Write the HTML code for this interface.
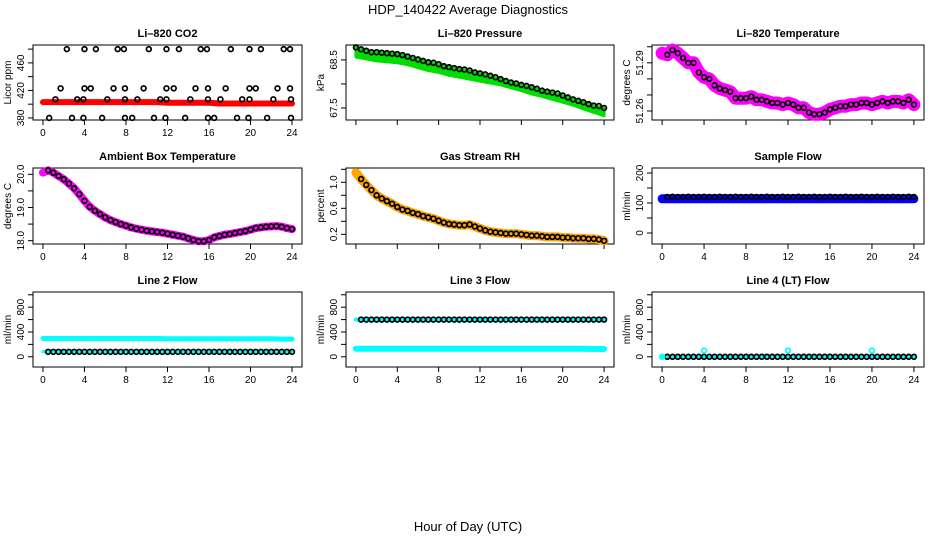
<!DOCTYPE html>
<html><head><meta charset="utf-8"><style>
html,body{margin:0;padding:0;background:#fff;}
svg{display:block;font-family:"Liberation Sans",Arial,sans-serif;}
</style></head><body>
<svg id="chart" width="936" height="540" viewBox="0 0 936 540" xmlns="http://www.w3.org/2000/svg">
<rect x="0" y="0" width="936" height="540" fill="#fff"/>
<text x="468" y="14" text-anchor="middle" font-size="13">HDP_140422  Average Diagnostics</text>
<text x="468" y="531" text-anchor="middle" font-size="13">Hour of Day (UTC)</text>
</svg>
<script>
// ---------- data ----------
const xTicks = [0,4,8,12,16,20,24];
const pressBlack = [68.76,68.72,68.69,68.66,68.66,68.65,68.64,68.63,68.62,68.6,68.57,68.54,68.51,68.48,68.45,68.44,68.41,68.37,68.35,68.33,68.31,68.3,68.28,68.24,68.22,68.2,68.17,68.14,68.1,68.06,68.03,68.01,67.98,67.96,67.93,67.9,67.86,67.84,67.82,67.8,67.76,67.72,67.68,67.65,67.62,67.58,67.55,67.54,67.5];
const pressGreenLow = [68.56,68.52,68.48,68.46,68.44,68.4,68.34,68.28,68.24,68.18,68.14,68.1,68.06,68.02,67.98,67.92,67.86,67.79,67.74,67.68,67.62,67.56,67.48,67.41,67.34];
const tempVals = [51.296,51.295,51.298,51.296,51.293,51.29,51.29,51.284,51.281,51.28,51.276,51.274,51.273,51.272,51.268,51.268,51.268,51.269,51.267,51.267,51.266,51.265,51.265,51.264,51.265,51.264,51.262,51.262,51.259,51.258,51.258,51.259,51.261,51.262,51.263,51.263,51.264,51.264,51.265,51.265,51.264,51.265,51.266,51.265,51.266,51.266,51.265,51.267,51.264];
const ambientVals = [20.05,20.12,20.05,19.95,19.85,19.72,19.58,19.4,19.2,19.02,18.9,18.8,18.7,18.62,18.56,18.5,18.45,18.4,18.36,18.33,18.3,18.28,18.26,18.24,18.21,18.18,18.15,18.12,18.07,18.02,17.98,17.98,18.02,18.1,18.14,18.18,18.2,18.23,18.26,18.29,18.33,18.38,18.4,18.42,18.43,18.44,18.42,18.38,18.35];
const rhVals = [1.15,1.05,0.96,0.88,0.8,0.75,0.71,0.67,0.62,0.58,0.56,0.53,0.51,0.48,0.46,0.44,0.41,0.38,0.36,0.35,0.34,0.34,0.35,0.32,0.29,0.26,0.24,0.23,0.22,0.21,0.21,0.21,0.2,0.19,0.18,0.18,0.17,0.16,0.16,0.16,0.15,0.15,0.14,0.14,0.14,0.13,0.13,0.12,0.1];
const sampleFlowVals = [120,120,121,120,120,121,120,120,121,120,120,121,120,120,121,120,120,121,120,120,121,120,120,121,120,120,121,120,120,121,120,120,121,120,120,121,120,120,121,120,120,121,120,120,121,120,120,121,120];
const sampleFlowBand = [114,114,114,114,114,114,114,114,114,114,114,114,114,114,114,114,114,114,114,114,114,114,114,114,114];
const line2Black = [80,80,80,80,80,80,80,80,80,80,80,80,80,80,80,80,80,80,80,80,80,80,80,80,80,80,80,80,80,80,80,80,80,80,80,80,80,80,80,80,80,80,80,80,80,80,80,80,80];
const line2Cyan = [295,295,295,295,295,295,295,295,295,295,295,295,290,290,290,290,290,290,290,290,290,290,290,285,285];
const line3Black = [600,600,600,600,600,600,600,600,600,600,600,600,600,600,600,600,600,600,600,600,600,600,600,600,600,600,600,600,600,600,600,600,600,600,600,600,600,600,600,600,600,600,600,600,600,600,600,600,600];
const line3CyanHigh = [600,600,600,600,600,600,600,600,600,600,600,600,600,600,600,600,600,600,600,600,600,600,600,600,600];
const line3CyanLow = [128,128,128,128,128,128,128,128,128,128,128,128,128,128,128,128,128,128,128,128,128,128,128,125,125];
const line4Black = [0,0,0,0,0,0,0,0,0,0,0,0,0,0,0,0,0,0,0,0,0,0,0,0,0,0,0,0,0,0,0,0,0,0,0,0,0,0,0,0,0,0,0,0,0,0,0,0,0];
const line4CyanT = [0,4,12,20];
const line4CyanV = [0,100,100,100];
const co2T = [2.3,4,5.1,7.2,7.8,10.2,11.9,13.1,15.2,15.8,18.1,19.9,21,23.2,23.8, 1.7,4,4.6,6.8,7.9,9.7,11.9,12.6,14.7,15.9,17.6,19.9,20.5,22.6,23.8, 1.2,3.3,3.9,6.2,7.9,9.1,11.3,11.9,14.2,15.9,17.1,19.2,19.9,22.2,23.9, 0.6,2.8,3.9,5.7,7.9,8.6,10.7,11.8,13.7,15.9,16.5,18.7,19.8,21.6,23.9];
const co2V = [480,480,480,480,480,480,480,480,480,480,480,480,480,480,480, 423,423,423,423,423,423,423,423,423,423,423,423,423,423,423, 407,407,407,407,407,407,407,407,407,407,407,407,407,407,407, 380,380,380,380,380,380,380,380,380,380,380,380,380,380,380];
const co2Red = [403,403,403,403,403,403,403,403,403,403,403,403,402,402,402,402,402,401,401,401,401,401,401,401,401];

// ---------- layout ----------
const svg = document.getElementById('chart');
const NS = 'http://www.w3.org/2000/svg';
const cols = [{l:33,r:302},{l:346,r:614},{l:652,r:924}];
const rows = [{t:45,b:120},{t:168,b:244},{t:292,b:367}];
function mk(tag, attrs){ const e=document.createElementNS(NS,tag); for(const k in attrs) e.setAttribute(k,attrs[k]); svg.appendChild(e); return e; }
const half = []; for(let i=0;i<=48;i++) half.push(i/2);
const hourly = []; for(let i=0;i<=24;i++) hourly.push(i);

function panel(ci, ri, name, title, ylab, ylim, ticks, labels, showX){
  const c=cols[ci], r=rows[ri];
  const sx = v => c.l + (v+0.96)/25.92*(c.r-c.l);
  const sy = v => r.b - (v-ylim[0])/(ylim[1]-ylim[0])*(r.b-r.t);
  const box = mk('rect',{x:c.l,y:r.t,width:c.r-c.l,height:r.b-r.t,fill:'none',stroke:'#000','stroke-width':1});
  
  
  const tt = mk('text',{x:(c.l+c.r)/2,y:r.t-8,'text-anchor':'middle','font-size':11,'font-weight':'bold'});
  tt.textContent = title;
  
  
  const yl = mk('text',{transform:`translate(${c.l-22},${(r.t+r.b)/2}) rotate(-90)`,'text-anchor':'middle','font-size':10});
  yl.textContent = ylab;
  
  
  const yt0 = sy(ticks[0]), yt1 = sy(ticks[ticks.length-1]);
  const ya = mk('line',{x1:c.l,x2:c.l,y1:yt0,y2:yt1,stroke:'#000'});
  
  
  ticks.forEach(v=>{
    const tk = mk('line',{x1:c.l-5,x2:c.l,y1:sy(v),y2:sy(v),stroke:'#000'});
    
    
  });
  labels.forEach(v=>{
    const lb = mk('text',{transform:`translate(${c.l-9},${sy(v)}) rotate(-90)`,'text-anchor':'middle','font-size':10});
    lb.textContent = v;
    
    
  });
  const xa = mk('line',{x1:sx(0),x2:sx(24),y1:r.b,y2:r.b,stroke:'#000'});
  
  
  xTicks.forEach(v=>{
    const tk = mk('line',{x1:sx(v),x2:sx(v),y1:r.b,y2:r.b+5,stroke:'#000'});
    
    
    if(showX){
      const lb = mk('text',{x:sx(v),y:r.b+16,'text-anchor':'middle','font-size':10});
      lb.textContent = v;
      
      
    }
  });
  return {sx, sy};
}
function band(p, ts, vs, color, w, name){
  const pts = ts.map((t,i)=>p.sx(t).toFixed(1)+','+p.sy(vs[i]).toFixed(1)).join(' ');
  const e = mk('polyline',{points:pts,fill:'none',stroke:color,'stroke-width':w,'stroke-linejoin':'round','stroke-linecap':'round'});
  
  
}
function pts(p, ts, vs, color, name, rad){
  ts.forEach((t,i)=>{
    if(vs[i]===undefined) return;
    const e = mk('circle',{cx:p.sx(t),cy:p.sy(vs[i]),r:rad||2.4,fill:'none',stroke:color,'stroke-width':1.7});
    
    
  });
}

// CO2
let p = panel(0,0,'co2','Li\u2013820 CO2','Licor ppm',[377,486],[380,400,420,440,460,480],[380,420,460],true);
band(p, hourly, co2Red, '#ff0000', 6, 'co2-red-series');
pts(p, co2T, co2V, '#000', 'co2-point');

// Pressure
p = panel(1,0,'pressure','Li\u2013820 Pressure','kPa',[67.25,68.81],[67.5,68.0,68.5],['67.5','68.5'],false);
{
  const top = hourly.map((t,i)=>p.sx(t).toFixed(1)+','+p.sy(pressBlack[i*2]).toFixed(1));
  const bot = hourly.map((t,i)=>p.sx(t).toFixed(1)+','+p.sy(pressGreenLow[i]).toFixed(1)).reverse();
  const e = mk('polygon',{points:top.concat(bot).join(' '),fill:'#00dd00',stroke:'#00dd00','stroke-width':3,'stroke-linejoin':'round'});
  
  
}
pts(p, half, pressBlack, '#000', 'pressure-point');

// Temperature
p = panel(2,0,'li820-temp','Li\u2013820 Temperature','degrees C',[51.2544,51.3011],[51.26,51.27,51.28,51.29,51.30],['51.26','51.29'],false);
band(p, half, tempVals, '#ff00ff', 13, 'li820-temp-magenta-series');
pts(p, half.slice(1), tempVals.slice(1), '#000', 'li820-temp-point');

// Ambient
p = panel(0,1,'ambient','Ambient Box Temperature','degrees C',[17.90,20.19],[18.0,18.5,19.0,19.5,20.0],['18.0','19.0','20.0'],true);
band(p, half, ambientVals, '#ff00ff', 8, 'ambient-magenta-series');
pts(p, half.slice(1), ambientVals.slice(1), '#000', 'ambient-point');

// RH
p = panel(1,1,'rh','Gas Stream RH','percent',[0.051,1.22],[0.2,0.4,0.6,0.8,1.0,1.2],['0.2','0.6','1.0'],false);
band(p, half, rhVals, '#ffa500', 9, 'rh-orange-series');
pts(p, half.slice(1), rhVals.slice(1), '#000', 'rh-point');

// Sample flow
p = panel(2,1,'sample-flow','Sample Flow','ml/min',[-36.7,216.7],[0,50,100,150,200],['0','100','200'],true);
band(p, hourly, sampleFlowBand, '#0000ff', 9, 'sample-flow-blue-series');
pts(p, half.slice(1), sampleFlowVals.slice(1), '#000', 'sample-flow-point');

// Line 2
p = panel(0,2,'line2','Line 2 Flow','ml/min',[-165,1045],[0,200,400,600,800,1000],['0','400','800'],true);
band(p, hourly, line2Cyan, '#00ffff', 5, 'line2-cyan-series');
band(p, half, line2Black, '#00ffff', 3, 'line2-cyan-low-series');
pts(p, half.slice(1), line2Black.slice(1), '#000', 'line2-point');

// Line 3
p = panel(1,2,'line3','Line 3 Flow','ml/min',[-165,1045],[0,200,400,600,800,1000],['0','400','800'],true);
band(p, hourly, line3CyanLow, '#00ffff', 6, 'line3-cyan-low-series');
band(p, hourly, line3CyanHigh, '#00ffff', 4, 'line3-cyan-high-series');
pts(p, half.slice(1), line3Black.slice(1), '#000', 'line3-point');

// Line 4
p = panel(2,2,'line4','Line 4 (LT) Flow','ml/min',[-165,1045],[0,200,400,600,800,1000],['0','400','800'],true);
band(p, half, line4Black, '#00ffff', 3, 'line4-cyan-series');
pts(p, half.slice(1), line4Black.slice(1), '#000', 'line4-point');
pts(p, line4CyanT, line4CyanV, '#00ffff', 'line4-cyan-point');
</script>
</body></html>
